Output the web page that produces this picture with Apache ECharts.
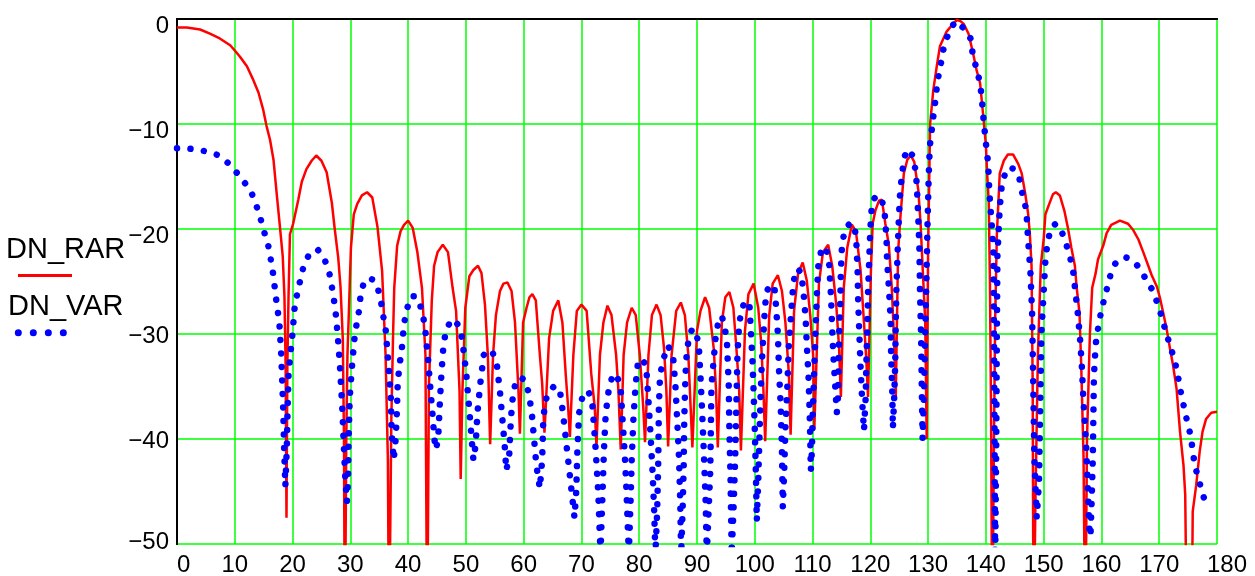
<!DOCTYPE html>
<html>
<head>
<meta charset="utf-8">
<script src="https://cdn.jsdelivr.net/npm/echarts@6/dist/echarts.min.js"></script>
<style>
  html, body { margin: 0; padding: 0; background: #fff; }
  #chart { width: 1255px; height: 576px; }
</style>
</head>
<body>
<div id="chart"></div>
<script>
// angle (deg) / level (dB) pairs
const dnRar = [
  [0,-0.8],[1.7,-0.8],[4,-1.0],[5.7,-1.4],[7.4,-1.85],[9.2,-2.5],[10,-3.0],[10.9,-3.6],[12.1,-4.5],[13.2,-5.8],
  [14.1,-7.0],[14.9,-8.6],[15.5,-10.2],[16.1,-11.5],[16.7,-13.4],[17.25,-16.6],[17.8,-19.7],[18.3,-22.6],[18.6,-26.5],[18.8,-33],
  [18.95,-47.5],[19.1,-33],[19.3,-26.5],[19.55,-20.5],[20.1,-19.5],[21,-17.2],[21.6,-15.5],[22.4,-14.3],[23.3,-13.5],[24.1,-13.0],
  [25,-13.5],[25.9,-14.6],[26.8,-17.5],[27.3,-20],[27.9,-22.7],[28.3,-25.5],[28.7,-30.5],[28.9,-40],[29.05,-60],[29.3,-40],
  [29.5,-32],[29.8,-27],[30.1,-21.8],[30.6,-18.6],[31.2,-17.6],[32,-16.8],[32.9,-16.5],[33.8,-17],[34.7,-19.8],[35.5,-24],
  [36.1,-32],[36.5,-42],[36.7,-60],[37.1,-38],[37.4,-30],[37.6,-25.6],[38.1,-21.6],[38.7,-20.2],[39.3,-19.6],[40,-19.2],
  [40.8,-19.9],[41.6,-22.2],[42.4,-25.6],[43,-32],[43.3,-60],[43.6,-35],[44.1,-26.8],[44.5,-23.5],[45.1,-22.2],[46,-21.5],
  [46.9,-22.2],[47.7,-25.6],[48.3,-27.8],[48.9,-35.4],[49.1,-43.8],[49.4,-35.4],[49.9,-27.5],[50.6,-24.5],[51.3,-23.9],[52.1,-23.5],
  [52.7,-24.2],[53.3,-27.2],[53.8,-32],[54.2,-40.5],[54.7,-32],[55.2,-28.2],[55.9,-25.9],[56.5,-25.2],[57.2,-25.1],[57.9,-25.9],
  [58.5,-28.9],[59.1,-35.4],[59.35,-39.5],[59.9,-28.9],[60.5,-27.5],[61,-26.5],[61.5,-26.2],[62.1,-26.8],[62.8,-32],[63.2,-34.7],
  [63.6,-39.4],[64.4,-30.4],[65.1,-27.8],[66,-26.8],[66.7,-28.9],[67.3,-34],[67.7,-37],[68,-39.8],[68.6,-32],[69.2,-27.8],
  [70,-27.2],[70.9,-27.8],[71.7,-33.8],[72.3,-37],[72.6,-40.7],[73.2,-32],[73.8,-28.9],[74.5,-27.3],[75.2,-28.2],[76,-32],
  [76.4,-35.4],[76.8,-41],[77.3,-32],[77.9,-28.9],[78.7,-27.5],[79.4,-28.2],[80.1,-32],[80.7,-37],[81,-40.3],[81.6,-32],
  [82.2,-28.2],[83,-27.2],[83.7,-28.2],[84.3,-31.4],[84.7,-35.4],[85,-40.7],[85.6,-32],[86.4,-27.8],[87.2,-27],[87.9,-28.2],
  [88.5,-32],[88.9,-37],[89.2,-40.8],[90,-29.7],[90.6,-27.8],[91.4,-26.5],[92.1,-27.5],[92.9,-31.4],[93.3,-35.4],[93.6,-40.8],
  [94.3,-28.9],[94.9,-26.5],[95.6,-26],[96.3,-27.5],[96.9,-32],[97.3,-35.4],[97.6,-41.1],[98.3,-29.7],[98.9,-26.2],[99.8,-25.2],
  [100.6,-27.5],[101.1,-30.8],[101.5,-35.4],[101.8,-40.2],[102.5,-28.2],[103.1,-25.2],[104,-24.4],[104.7,-25.9],[105.3,-28.9],[105.9,-33.8],
  [106.2,-39.6],[106.8,-27.8],[107.5,-24.2],[108.3,-23.2],[109,-24.9],[109.6,-28.2],[110.1,-32],[110.3,-39.1],[111.1,-25.2],[111.8,-22.2],
  [112.7,-21.5],[113.4,-23.5],[114.1,-27.2],[114.6,-31.4],[114.9,-36],[115.4,-25.6],[116,-21.8],[116.8,-19.6],[117.5,-20.2],[118.3,-23.9],
  [118.9,-28.9],[119.3,-32.4],[119.6,-36],[120.1,-24],[120.4,-19.5],[120.9,-18.2],[121.5,-17.3],[122,-17.2],[122.6,-19.5],[123.2,-21.5],
  [123.7,-25.5],[124.1,-30.4],[124.4,-36],[124.8,-22.2],[125.2,-18.9],[125.8,-14.7],[126.4,-13.4],[127,-13],[127.6,-13.6],[128.3,-16.3],
  [128.7,-19.5],[129.1,-24.2],[129.5,-28.8],[129.75,-40],[130,-22],[130.2,-15],[130.35,-10],[130.9,-6.75],[131.5,-4.5],[132.05,-2.6],
  [133.2,-1.2],[134.4,-0.4],[135,-0.1],[135.6,-0.2],[136.2,-0.5],[137,-1.4],[137.8,-3.3],[138.4,-4.9],[139,-6.1],[139.5,-9],
  [140,-12],[140.2,-14.5],[140.5,-17.5],[140.7,-25],[140.9,-38],[141.1,-60],[141.4,-40],[141.6,-28.8],[141.9,-20.5],[142.4,-14.7],
  [143.1,-13.5],[143.8,-12.9],[144.7,-12.9],[145.6,-13.8],[146.2,-14.7],[146.8,-16.6],[147.3,-18.5],[147.6,-20.4],[147.9,-23.5],[148.1,-35],
  [148.25,-60],[148.6,-45],[149,-32],[149.5,-23.5],[150,-21],[150.3,-18.6],[150.9,-17.7],[151.6,-16.7],[152.1,-16.5],[152.8,-16.8],
  [153.6,-18.3],[154.2,-19.9],[154.8,-21.8],[155.4,-23.5],[155.7,-25.5],[156.2,-28],[156.5,-33],[156.9,-41.7],[157.2,-60],[157.5,-40],
  [157.8,-34],[158,-30],[158.4,-25.6],[159,-24.2],[159.4,-22.9],[160.3,-21.6],[160.9,-20.4],[161.7,-19.6],[163.2,-19.2],[164.6,-19.5],
  [165.5,-20.1],[166.4,-21],[167.3,-22.3],[168.1,-23.5],[168.7,-24.4],[169.6,-25.5],[170.1,-26.5],[170.7,-28],[171.3,-29.6],[171.9,-31.5],
  [172.4,-33],[173,-35.2],[173.6,-39.3],[174.2,-42.5],[174.5,-45.3],[174.8,-60],[175.6,-60],[175.8,-46.9],[176.4,-44.4],[177,-41.2],
  [177.5,-39.3],[178.1,-38.1],[179,-37.5],[180,-37.4]
];

const dnVar = [
  [0,-12.3],[1,-12.3],[2,-12.35],[3,-12.4],[4,-12.5],[5,-12.6],[6,-12.75],[7,-12.95],[8,-13.3],[9,-13.8],
  [10,-14.4],[11,-15.1],[12,-15.8],[13,-16.7],[13.7,-17.7],[14.5,-19.1],[15.1,-20.3],[15.8,-21.6],[16.3,-23.1],[16.7,-24.5],
  [17,-26],[17.3,-27.3],[17.7,-28.8],[18,-31.5],[18.2,-34.4],[18.4,-37.5],[18.55,-41],[18.75,-44.5],[19,-41],[19.15,-37],
  [19.3,-34],[19.6,-32],[20,-29.9],[20.4,-27.2],[21.2,-25.2],[21.8,-23.8],[22.7,-22.6],[23.6,-22],[24.4,-22],[25.4,-22.7],
  [26.3,-24],[26.9,-25.8],[27.4,-27.6],[27.8,-30],[28.2,-33],[28.6,-37],[28.9,-41],[29.15,-44],[29.4,-46],[29.6,-44],
  [29.7,-40],[29.9,-36],[30.3,-33],[30.7,-30.5],[31.1,-29],[31.5,-27.8],[31.8,-26.2],[32.4,-25],[33,-24.7],[33.8,-24.8],
  [34.5,-25.2],[35.2,-26.5],[35.6,-28],[36.1,-29.5],[36.4,-31.5],[36.7,-33.6],[37,-36],[37.15,-39.3],[37.5,-42],[37.85,-40],
  [38.05,-37.5],[38.2,-34.7],[38.5,-33],[38.9,-31.5],[39.3,-29],[39.8,-27.6],[40.6,-26.4],[41.3,-26.4],[41.9,-26.9],[42.6,-28.3],
  [43,-29.8],[43.4,-32],[43.8,-34.8],[44.2,-37.5],[44.55,-40],[44.8,-41],[45.2,-40],[45.5,-36.5],[45.8,-33.5],[46.1,-31.2],
  [46.5,-29.8],[47.3,-28.8],[48,-28.6],[48.7,-29.2],[49.2,-30],[49.7,-32],[50.1,-34],[50.6,-37.3],[51,-40],[51.3,-42],
  [51.7,-40.5],[52,-37.5],[52.5,-34.7],[53.1,-32],[53.8,-31.5],[54.6,-31.7],[55.4,-33.1],[55.9,-35.5],[56.3,-38],[56.7,-40.5],
  [57,-43],[57.5,-41.5],[57.8,-38],[58.2,-35.5],[58.8,-34.3],[59.6,-34.2],[60.3,-34.4],[60.9,-35.7],[61.4,-37.5],[61.8,-40],
  [62.2,-42.5],[62.8,-44.7],[63.2,-42],[63.4,-38],[63.8,-36.3],[64.5,-35.4],[65.4,-34.9],[66.3,-35.5],[66.8,-37.5],[67.4,-40.5],
  [68,-43.5],[68.5,-46],[68.8,-47.5],[69.1,-45],[69.3,-41],[69.6,-37.5],[70.2,-35.9],[71.2,-35.4],[71.9,-36.8],[72.4,-40.5],
  [72.9,-45],[73.3,-51],[73.6,-46],[73.9,-41],[74.2,-37.6],[74.8,-35],[75.4,-34],[76.1,-33.8],[76.8,-35.3],[77.1,-38],
  [77.5,-41.5],[77.8,-45],[78.2,-51],[78.5,-46],[78.7,-42],[79,-38],[79.3,-35.5],[79.6,-33.5],[79.9,-32.4],[80.6,-32.5],
  [81.2,-33],[81.5,-35.5],[81.9,-39],[82.3,-43],[82.6,-47],[82.8,-51],[83.1,-47],[83.3,-42],[83.4,-37],[83.6,-34],
  [84.1,-32.5],[85,-31.1],[85.9,-32.4],[86.3,-35.2],[86.6,-38.5],[86.9,-42],[87.1,-46],[87.25,-51],[87.5,-47],[87.7,-42.5],
  [87.8,-38],[88,-34],[88.2,-32],[88.6,-30.3],[89.2,-29.5],[89.8,-29.8],[90.3,-31],[90.6,-34],[90.9,-37.5],[91.2,-41.5],
  [91.5,-46],[91.7,-51],[92,-47],[92.3,-43],[92.4,-39],[92.5,-35],[92.8,-33],[93.2,-30.5],[93.8,-28.5],[94.3,-28.3],
  [94.8,-29.3],[95.2,-31],[95.5,-35],[95.6,-39],[95.8,-43.5],[96,-51],[96.3,-47],[96.6,-42],[96.8,-37],[97,-32],
  [97.3,-29],[97.8,-27.5],[98.5,-26.8],[99.1,-27.4],[99.3,-29.5],[99.6,-32.5],[99.8,-35.5],[100,-39],[100.2,-43.5],[100.35,-47.8],
  [100.6,-44],[100.8,-40],[101,-36],[101.2,-33],[101.5,-30],[101.7,-28],[102,-26],[102.7,-25.3],[103.4,-25.5],[103.7,-27.5],
  [104,-30],[104.2,-33.5],[104.5,-37],[104.7,-41],[104.85,-46.5],[105.1,-43],[105.3,-39],[105.6,-35.5],[105.9,-31],[106.3,-28],
  [106.7,-25],[107.3,-23.8],[108,-24.1],[108.4,-25.8],[108.8,-28.5],[109,-31],[109.3,-34],[109.5,-37.5],[109.6,-40],[109.7,-43],
  [109.9,-41],[110,-38],[110.2,-35],[110.4,-31.5],[110.6,-28.5],[110.8,-25.5],[111,-23.5],[111.6,-21.7],[112.4,-22],[112.9,-23.5],
  [113.2,-26.5],[113.4,-29.5],[113.6,-32],[113.9,-34.7],[114.2,-37.5],[114.4,-36],[114.5,-33],[114.6,-30],[114.8,-27],[114.9,-24],
  [115.1,-21.5],[115.6,-20],[116.6,-19.4],[117.3,-19.8],[117.6,-21.5],[117.8,-24],[117.9,-27],[118.1,-30],[118.3,-33],[118.6,-36.5],
  [118.9,-39.2],[119.2,-36],[119.3,-33],[119.5,-29],[119.6,-26],[119.8,-23],[120,-20],[120.3,-17.5],[121,-16.8],[122,-17.2],
  [122.5,-18.6],[122.8,-21],[122.9,-23],[123.2,-25.5],[123.5,-28.5],[123.6,-32],[123.8,-35.5],[123.9,-39],[124.1,-36.5],[124.3,-33],
  [124.4,-29],[124.5,-26],[124.7,-22.5],[124.9,-19.5],[125.1,-17],[125.5,-14.6],[126,-13],[126.5,-12.4],[127.3,-13],[127.9,-14.6],
  [128.1,-16.5],[128.3,-19],[128.5,-22],[128.6,-26],[128.8,-30.5],[128.9,-35],[129.05,-40],[129.3,-35],[129.5,-30],[129.7,-25],
  [129.9,-19.5],[130.1,-15],[130.3,-12.1],[130.9,-9.3],[131.2,-8],[131.6,-6],[132.4,-3.7],[132.8,-2.4],[133.9,-0.9],[134.8,-0.2],
  [136.2,-0.9],[137.4,-1.9],[137.7,-3.3],[138.4,-4.8],[139,-6.1],[139.3,-7.6],[139.6,-9.6],[140,-11.8],[140.4,-13.8],[140.6,-16.5],
  [141,-19.5],[141.3,-22],[141.4,-30],[141.5,-40],[141.6,-52],[141.8,-40],[141.9,-30],[142,-22.5],[142.4,-18],[142.8,-15.5],
  [143.3,-14.8],[144,-14.1],[144.9,-14.3],[145.8,-15.2],[146.3,-16.6],[147,-18.2],[147.3,-21],[147.7,-24],[148,-28],[148.2,-35],
  [148.4,-42],[148.8,-47.5],[149.2,-44],[149.4,-37],[149.6,-30],[150,-26],[150.3,-23],[150.7,-21.1],[151.4,-19.8],[152.1,-19.5],
  [152.8,-19.8],[153.7,-21.1],[154.5,-22.5],[155.1,-24],[155.5,-26],[155.9,-28],[156.3,-30.5],[156.6,-33],[156.9,-36.5],[157.3,-40],
  [157.6,-44],[157.9,-48.5],[158.1,-49.3],[158.3,-46],[158.5,-42],[158.6,-38],[158.7,-34],[159,-31],[159.4,-29.5],[160,-27.7],
  [160.8,-26],[161.6,-24.3],[162.4,-23.3],[163.3,-22.8],[164.2,-22.7],[165.2,-22.9],[166.6,-23.7],[167.6,-24.7],[168.7,-25.7],[169.8,-27.2],
  [170.5,-28.5],[171.2,-29.9],[172,-31.3],[172.8,-32.8],[173.3,-34.2],[173.8,-35.7],[174.3,-37],[174.9,-38.5],[175.5,-39.8],[175.8,-41.2],
  [176.2,-42.6],[176.9,-44],[177.6,-45.4],[178.4,-46.6]
];

const FONT = '"Liberation Sans", Arial, sans-serif';
const chart = echarts.init(document.getElementById('chart'));

// y tick labels in the original sit a few px off their grid lines
function yLabel(v) {
  const txt = v < 0 ? '\u2212' + (-v) : String(v);
  if (v >= -20) return '{a|' + txt + '}';
  if (v >= -40) return '{b|' + txt + '}';
  return '{c|' + txt + '}';
}

const option = {
  animation: false,
  backgroundColor: '#fff',
  grid: { left: 177, right: 38, top: 19, bottom: 32, outerBoundsMode: 'none' },
  xAxis: [
    {
      type: 'value', min: 0, max: 180, interval: 10,
      axisLine: { lineStyle: { color: '#000', width: 2 } },
      axisTick: { show: false },
      splitLine: { lineStyle: { color: '#00ff00', width: 1.5 } },
      axisLabel: {
        color: '#000', fontSize: 24, fontFamily: FONT, margin: 9,
        alignMinLabel: 'left',
        formatter: function (v) { return v === 180 ? '{m|180}' : String(v); },
        rich: { m: { fontSize: 24, fontFamily: FONT, color: '#000', padding: [0, 0, 0, 20] } }
      }
    },
    {
      type: 'value', position: 'top', min: 0, max: 180,
      axisLine: { show: true, lineStyle: { color: '#000', width: 2 } },
      axisTick: { show: false }, axisLabel: { show: false }, splitLine: { show: false }
    }
  ],
  yAxis: [
    {
      type: 'value', min: -50, max: 0, interval: 10,
      axisLine: { show: true, lineStyle: { color: '#000', width: 2 } },
      axisTick: { show: false },
      splitLine: { lineStyle: { color: '#00ff00', width: 1.5 } },
      axisLabel: {
        color: '#000', fontSize: 24, fontFamily: FONT, margin: 8,
        formatter: yLabel,
        rich: {
          a: { fontSize: 24, fontFamily: FONT, color: '#000', padding: [14, 0, 0, 0] },
          b: { fontSize: 24, fontFamily: FONT, color: '#000', padding: [4, 0, 0, 0] },
          c: { fontSize: 24, fontFamily: FONT, color: '#000', padding: [0, 0, 3, 0] }
        }
      }
    },
    {
      type: 'value', position: 'right', min: -50, max: 0,
      axisLine: { show: true, lineStyle: { color: '#000', width: 2 } },
      axisTick: { show: false }, axisLabel: { show: false }, splitLine: { show: false }
    }
  ],
  series: [
    {
      name: 'DN_RAR', type: 'line', data: dnRar,
      showSymbol: false, symbol: 'none',
      lineStyle: { color: '#ff0000', width: 2.5 }
    },
    {
      name: 'DN_VAR', type: 'line', data: dnVar,
      showSymbol: false, symbol: 'none',
      lineStyle: { color: '#0000ff', width: 6.5, type: [0.01, 13.5], cap: 'round' }
    }
  ],
  // legend drawn by hand: the sample sits under its label
  graphic: [
    { type: 'text', x: 6, y: 250, style: { text: 'DN_RAR', fontSize: 29, fontFamily: FONT, fill: '#000', verticalAlign: 'middle' } },
    { type: 'line', shape: { x1: 18, y1: 275.5, x2: 72, y2: 275.5 }, style: { stroke: '#ff0000', lineWidth: 3 } },
    { type: 'text', x: 8, y: 307, style: { text: 'DN_VAR', fontSize: 29, fontFamily: FONT, fill: '#000', verticalAlign: 'middle' } },
    { type: 'line', shape: { x1: 18.3, y1: 332.7, x2: 64, y2: 332.7 }, style: { stroke: '#0000ff', lineWidth: 7, lineDash: [0.01, 15], lineCap: 'round' } }
  ]
};

chart.setOption(option);
</script>
</body>
</html>
